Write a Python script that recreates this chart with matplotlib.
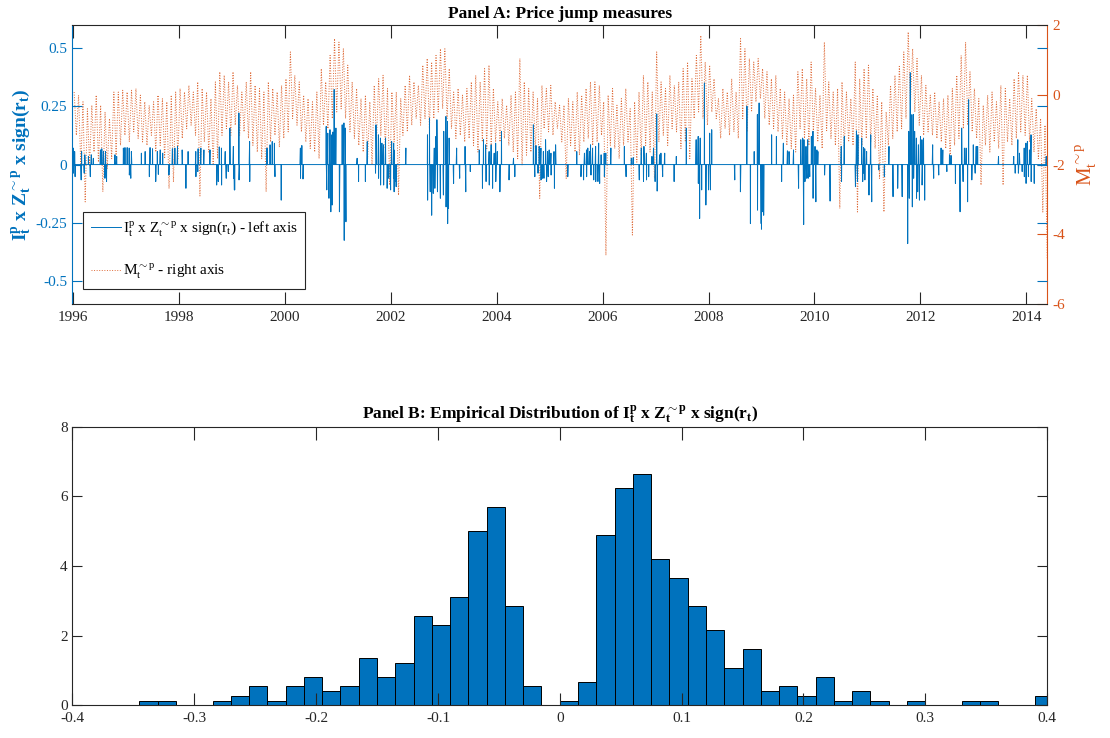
import numpy as np
import pandas as pd
import matplotlib
matplotlib.use("Agg")
import matplotlib.pyplot as plt
from matplotlib.ticker import FuncFormatter

plt.rcParams['font.family'] = ['Liberation Serif', 'DejaVu Serif']
plt.rcParams['mathtext.fontset'] = 'custom'
plt.rcParams['mathtext.rm'] = 'Liberation Serif'
plt.rcParams['mathtext.it'] = 'Liberation Serif'
plt.rcParams['mathtext.bf'] = 'Liberation Serif:bold'
plt.rcParams['axes.unicode_minus'] = False

BLUE = '#0072BD'
ORANGE = '#D95319'
DARK = '#262626'

# ---------------- DATA ----------------
# Panel A, right axis: monthly high / low of M~p_t (Jan 1996 - May 2014)
m_high = [
    0.08, -0.01, -0.20, -0.40, -0.30, -0.01, -0.30, -0.49, -0.68, 0.08, 0.08, 0.13,   # 1996
    0.08, 0.13, 0.18, -0.01, -0.20, -0.30, -0.20, -0.01, -0.11, -0.20, -0.01, 0.08,   # 1997
    0.18, 0.08, 0.27, 0.08, 0.37, 0.18, 0.08, -0.11, 0.37, 0.66, 0.56, 0.37,          # 1998
    0.66, 0.27, 0.08, 0.37, 0.66, 0.27, 0.18, 0.08, 0.37, 0.18, 0.08, 0.27,           # 1999
    0.46, 1.23, 0.56, 0.37, -0.01, -0.11, -0.20, 0.08, 0.75, 0.37, 1.13, 1.61,        # 2000
    1.51, 1.32, 0.85, 0.37, 0.18, -0.11, -0.01, -0.20, 0.27, 0.46, 0.56, 0.18,        # 2001
    0.08, 0.08, -0.11, 0.27, 0.56, 0.37, 0.27, 0.85, 1.04, 0.94, 1.13, 1.32,          # 2002
    1.32, 0.75, 0.08, 0.18, -0.01, 0.18, 0.37, 0.56, 0.37, 0.75, 0.85, 0.18,          # 2003
    -0.20, -0.11, -0.30, -0.01, 0.08, 1.04, 0.37, 0.18, 0.08, -0.11, 0.27, 0.18,      # 2004
    0.27, -0.20, -0.30, -0.30, -0.11, -0.20, 0.08, -0.01, 0.18, 0.37, 0.37, 0.27,     # 2005
    -0.20, -0.01, 0.18, -0.30, -0.11, 0.18, -0.40, -0.20, 0.08, 0.56, 0.37, 0.08,     # 2006
    1.23, 0.37, 0.18, 0.56, 0.27, 0.37, 0.75, 0.94, 0.46, 1.13, 1.70, 0.94,           # 2007
    0.85, 0.46, -0.11, 0.18, 0.08, 0.46, 0.08, 1.61, 1.32, 1.04, 0.94, 1.04,          # 2008
    0.75, 0.66, 0.46, 0.56, 0.18, 0.08, -0.11, -0.01, 0.66, 0.75, 0.46, 0.94,         # 2009
    0.18, -0.01, 1.51, 0.37, 0.08, 0.18, 0.37, 0.08, -0.11, 0.94, 0.46, 0.75,         # 2010
    0.85, 0.18, -0.01, -0.20, -0.49, 0.27, 0.56, 0.85, 1.23, 1.80, 1.32, 1.04,        # 2011
    0.56, 0.27, -0.01, 0.08, -0.20, -0.11, -0.01, 0.18, 0.56, 1.13, 1.51, 0.66,       # 2012
    0.18, -0.11, -0.30, -0.01, 0.08, -0.20, 0.27, 0.18, -0.11, 0.46, 0.66, 0.56,      # 2013
    0.56, -0.11, -0.40, -0.68, -0.87,                                                 # 2014
]
m_low = [
    -1.16, -2.02, -3.07, -2.02, -1.64, -1.93, -2.78, -2.11, -1.83, -1.73, -1.45, -1.16,  # 1996
    -1.35, -1.06, -1.25, -1.35, -1.45, -1.16, -1.64, -1.45, -1.83, -2.69, -2.50, -1.83,  # 1997
    -1.25, -0.97, -0.87, -1.16, -2.90, -1.35, -1.64, -2.02, -1.83, -1.16, -0.97, -1.16,  # 1998
    -0.87, -1.16, -1.06, -1.25, -1.45, -1.64, -1.83, -2.78, -1.35, -1.16, -1.50, -1.25,  # 1999
    -1.06, -0.68, -0.87, -1.06, -1.35, -1.54, -1.64, -1.83, -0.87, -0.97, -0.68, -0.49,  # 2000
    -0.40, -0.68, -1.06, -1.25, -1.45, -1.64, -1.83, -2.00, -1.35, -1.16, -1.54, -2.59,  # 2001
    -1.35, -2.88, -1.16, -1.06, -0.87, -0.68, -0.87, -0.68, -0.97, -0.68, -0.49, -0.40,  # 2002
    -0.68, -0.97, -1.25, -1.16, -1.35, -1.25, -1.45, -1.64, -1.35, -1.54, -1.45, -1.35,  # 2003
    -1.35, -1.25, -1.45, -1.64, -1.83, -2.02, -1.73, -1.64, -1.54, -2.97, -0.97, -1.06,  # 2004
    -1.16, -0.97, -1.35, -2.40, -1.45, -1.64, -1.73, -1.35, -1.25, -1.45, -1.35, -1.16,  # 2005
    -4.60, -1.45, -1.54, -1.83, -1.45, -1.35, -4.02, -1.93, -1.73, -1.45, -1.64, -2.40,  # 2006
    -1.35, -1.16, -1.45, -0.97, -1.06, -1.54, -1.35, -1.83, -0.68, -0.49, -0.68, -0.87,  # 2007
    -0.49, -0.68, -1.25, -0.97, -1.16, -1.06, -1.25, -0.68, -1.06, -0.49, -0.20, -0.11,  # 2008
    -0.68, -0.87, -0.97, -1.06, -1.25, -1.45, -1.54, -1.64, -0.97, -1.25, -1.45, -1.06,  # 2009
    -1.35, -1.54, -1.06, -1.25, -1.45, -3.26, -1.54, -1.35, -1.45, -3.36, -1.45, -1.25,  # 2010
    -1.35, -1.54, -2.40, -3.36, -1.45, -1.25, -1.06, -0.97, -0.68, -0.30, -0.49, -0.87,  # 2011
    -1.16, -1.06, -1.16, -1.25, -1.35, -1.54, -1.83, -1.45, -1.25, -0.97, -0.87, -1.06,  # 2012
    -1.25, -2.59, -1.45, -1.64, -1.35, -1.54, -2.59, -1.35, -1.45, -1.25, -1.06, -1.16,  # 2013
    -1.35, -1.64, -1.83, -3.36, -4.69,                                                   # 2014
]

# Panel A, left axis: jump days (decimal year) and signed jump sizes
jump_dates_pos = [
    1996.00, 1996.03, 1996.16, 1996.22, 1996.29, 1996.34, 1996.38, 1996.51, 1996.54, 1996.57,
    1996.61, 1996.79, 1996.82, 1996.95, 1996.98, 1997.02, 1997.06, 1997.10, 1997.29, 1997.36,
    1997.45, 1997.50, 1997.59, 1997.64, 1997.69, 1997.87, 1997.92, 1997.97, 1998.06, 1998.17,
    1998.31, 1998.36, 1998.41, 1998.47, 1998.58, 1998.76, 1998.80, 1998.87, 1998.96, 1999.02,
    1999.13, 1999.33, 1999.66, 1999.72, 1999.76, 1999.80, 2000.29, 2000.32, 2000.78, 2000.81,
    2000.85, 2000.88, 2000.90, 2000.93, 2000.96, 2001.08, 2001.11, 2001.14, 2001.36, 2001.55,
    2001.72, 2001.76, 2001.80, 2001.83, 2001.86, 2001.90, 2002.01, 2002.05,
    2002.06, 2002.28, 2002.69, 2002.73, 2002.82, 2002.85, 2002.87, 2003.00, 2003.04, 2003.07,
    2003.10, 2003.24, 2003.40, 2003.67, 2003.75, 2003.79, 2003.85, 2003.89, 2003.95, 2003.98,
    2004.01, 2004.09, 2004.31, 2004.69, 2004.74, 2004.80, 2004.83, 2004.88, 2004.92, 2004.96,
    2004.99, 2005.02, 2005.08, 2005.11,
    2005.51, 2005.65, 2005.69, 2005.72, 2005.75, 2005.77, 2005.81, 2005.86, 2005.92, 2005.97,
    2006.03, 2006.06, 2006.15, 2006.41, 2006.54, 2006.57, 2006.73, 2006.78, 2006.82, 2006.93,
    2006.96, 2007.02, 2007.07, 2007.10, 2007.17, 2007.39, 2007.58, 2007.76, 2007.80, 2007.84,
    2007.92, 2008.02, 2008.06,
    2008.72, 2008.86, 2008.92, 2008.95, 2009.19, 2009.28, 2009.41, 2009.49, 2009.52, 2009.60,
    2009.74, 2009.77, 2009.80, 2009.84, 2009.87, 2009.94, 2009.97, 2010.01, 2010.04, 2010.06,
    2010.50, 2010.56, 2010.79, 2010.82, 2010.89, 2010.92, 2010.95, 2010.98, 2011.06,
    2011.40, 2011.78, 2011.81, 2011.84, 2011.87, 2011.89, 2011.92, 2011.96, 2012.00, 2012.03,
    2012.06, 2012.23, 2012.39, 2012.42, 2012.55, 2012.58, 2012.78, 2012.83, 2012.86, 2012.91,
    2013.00, 2013.05, 2013.08, 2013.47, 2013.76, 2013.84, 2013.87, 2013.96, 2013.99, 2014.02,
    2014.06, 2014.09, 2014.37,
]
jump_sizes_pos = [
    0.071, 0.056, 0.056, 0.042, 0.035, 0.042, 0.027, 0.063, 0.068, 0.056,
    0.056, 0.042, 0.035, 0.071, 0.073, 0.073, 0.071, 0.056, 0.049, 0.056,
    0.073, 0.068, 0.056, 0.063, 0.049, 0.068, 0.071, 0.078, 0.063, 0.056,
    0.056, 0.068, 0.071, 0.063, 0.063, 0.076, 0.071, 0.056, 0.157, 0.078,
    0.222, 0.099, 0.071, 0.085, 0.099, 0.092, 0.071, 0.082, 0.164, 0.135,
    0.150, 0.128, 0.140, 0.323, 0.157, 0.171, 0.179, 0.157, 0.027, 0.099,
    0.171, 0.128, 0.114, 0.092, 0.085, 0.114, 0.099, 0.092,
    0.063, 0.071, 0.128, 0.200, 0.071, 0.121, 0.193, 0.143, 0.207, 0.186,
    0.114, 0.071, 0.078, 0.063, 0.107, 0.085, 0.056, 0.085, 0.049, 0.092,
    0.056, 0.143, 0.027, 0.171, 0.082, 0.078, 0.071, 0.056, 0.107, 0.056,
    0.063, 0.049, 0.056, 0.085,
    0.056, 0.049, 0.063, 0.071, 0.056, 0.085, 0.071, 0.078, 0.092, 0.042,
    0.049, 0.049, 0.071, 0.078, 0.027, 0.030, 0.071, 0.078, 0.049, 0.035,
    0.071, 0.218, 0.042, 0.049, 0.049, 0.035, 0.157, 0.107, 0.121, 0.114,
    0.351, 0.135, 0.150,
    0.251, 0.056, 0.215, 0.265, 0.128, 0.121, 0.092, 0.059, 0.056, 0.063,
    0.107, 0.114, 0.107, 0.078, 0.107, 0.121, 0.143, 0.078, 0.063, 0.056,
    0.078, 0.121, 0.145, 0.128, 0.114, 0.073, 0.068, 0.056, 0.128,
    0.078, 0.143, 0.395, 0.215, 0.215, 0.143, 0.114, 0.085, 0.121, 0.107,
    0.114, 0.085, 0.071, 0.063, 0.042, 0.039, 0.157, 0.071, 0.071, 0.279,
    0.085, 0.078, 0.078, 0.035, 0.035, 0.107, 0.049, 0.071, 0.092, 0.099,
    0.063, 0.128, 0.035,
]
jump_dates_neg = [
    1996.00, 1996.03, 1996.15, 1996.21, 1996.32, 1996.60, 1996.63, 1997.06, 1997.09, 1997.44,
    1997.56, 1997.61, 1997.81, 1998.13, 1998.32, 1998.35, 1998.71, 1998.74, 1998.80, 1998.89,
    1998.93, 1999.04,
    1999.03, 1999.05, 1999.13, 1999.33, 1999.81, 1999.93, 2000.29, 2000.34, 2000.79, 2000.83,
    2000.86, 2000.89, 2001.03, 2001.11, 2001.12, 2001.15, 2001.39, 2001.52, 2001.71, 2001.76,
    2001.80, 2001.86, 2001.93, 2001.96, 2001.99, 2002.05, 2002.10,
    2002.06, 2002.09, 2002.69, 2002.74, 2002.77, 2002.80, 2002.83, 2002.88, 2002.93, 2002.99,
    2003.04, 2003.07, 2003.09, 2003.18, 2003.30, 2003.41, 2003.50, 2003.73, 2003.79, 2003.85,
    2003.92, 2003.98, 2004.06, 2004.23, 2004.34, 2004.72, 2004.78, 2004.83, 2004.86, 2004.89,
    2004.94, 2004.97, 2005.02, 2005.09,
    2005.34, 2005.59, 2005.64, 2005.69, 2005.78, 2005.83, 2005.86, 2005.91, 2005.94, 2006.03,
    2006.44, 2006.69, 2006.77, 2006.82, 2006.87, 2006.99, 2007.03, 2007.13, 2007.35, 2007.80,
    2007.83, 2007.87, 2007.95, 2008.00, 2008.03,
    2008.49, 2008.60, 2008.79, 2008.92, 2008.99, 2009.00, 2009.02, 2009.04, 2009.38, 2009.70,
    2009.79, 2009.82, 2009.85, 2009.88, 2009.91, 2009.97, 2010.02, 2010.19, 2010.29, 2010.51,
    2010.77, 2010.81, 2010.91, 2010.93, 2010.95, 2011.03, 2011.08, 2011.21,
    2011.32, 2011.48, 2011.57, 2011.65, 2011.76, 2011.79, 2011.84, 2011.87, 2011.92, 2011.95,
    2011.98, 2012.03, 2012.08, 2012.25, 2012.34, 2012.50, 2012.66, 2012.75, 2012.80, 2012.89,
    2012.97, 2013.03, 2013.79, 2013.85, 2013.92, 2013.96, 2013.99, 2014.04, 2014.09, 2014.15,
]
jump_sizes_neg = [
    -0.037, -0.052, -0.066, -0.037, -0.052, -0.059, -0.073, -0.045, -0.059, -0.052,
    -0.073, -0.042, -0.045, -0.102, -0.052, -0.030, -0.088, -0.073, -0.088, -0.059,
    -0.030, -0.109,
    -0.059, -0.109, -0.066, -0.073, -0.052, -0.153, -0.059, -0.062, -0.109, -0.145,
    -0.203, -0.174, -0.203, -0.225, -0.326, -0.246, -0.073, -0.073, -0.037, -0.059,
    -0.088, -0.088, -0.102, -0.059, -0.109, -0.059, -0.095,
    -0.117, -0.073, -0.153, -0.117, -0.218, -0.124, -0.102, -0.117, -0.145, -0.131,
    -0.182, -0.254, -0.189, -0.081, -0.059, -0.117, -0.030, -0.102, -0.073, -0.088,
    -0.102, -0.073, -0.117, -0.066, -0.052, -0.052, -0.037, -0.066, -0.059, -0.059,
    -0.073, -0.052, -0.045, -0.102,
    -0.052, -0.052, -0.066, -0.052, -0.045, -0.066, -0.073, -0.073, -0.081, -0.052,
    -0.052, -0.066, -0.073, -0.066, -0.052, -0.073, -0.114, -0.052, -0.073, -0.081,
    -0.232, -0.109, -0.174, -0.109, -0.109,
    -0.066, -0.117, -0.254, -0.196, -0.254, -0.278, -0.203, -0.218, -0.073, -0.102,
    -0.258, -0.073, -0.059, -0.059, -0.052, -0.145, -0.160, -0.045, -0.157, -0.073,
    -0.095, -0.073, -0.073, -0.037, -0.066, -0.131, -0.160, -0.023,
    -0.052, -0.138, -0.102, -0.138, -0.340, -0.145, -0.182, -0.059, -0.145, -0.117,
    -0.153, -0.088, -0.153, -0.059, -0.045, -0.030, -0.081, -0.203, -0.073, -0.160,
    -0.066, -0.037, -0.037, -0.037, -0.030, -0.052, -0.081, -0.052, -0.073, -0.081,
]

# Panel B: histogram bins (width 0.015) and counts
hist_left_edge = -0.345
hist_bin_width = 0.015
hist_counts = [
    1, 1, 0, 0, 1, 2, 4, 1, 4, 6, 3, 4, 10, 6, 9, 19, 17, 23, 37, 42, 21, 4, 0,   # -0.345 .. 0
    1, 5, 36, 46, 49, 31, 27, 21, 16, 8, 12, 3, 4, 2, 6, 1, 3, 1, 0, 1, 0, 0,     # 0 .. 0.33
    1, 1, 0, 0, 2,                                                               # 0.33 .. 0.405
]

year_ticks = [1996, 1998, 2000, 2002, 2004, 2006, 2008, 2010, 2012, 2014]
left_ticks = [-0.5, -0.25, 0, 0.25, 0.5]
right_ticks = [-6, -4, -2, 0, 2]
hist_xticks = [-0.4, -0.3, -0.2, -0.1, 0, 0.1, 0.2, 0.3, 0.4]
hist_yticks = [0, 2, 4, 6, 8]

# ---------------- BUILD SERIES ----------------
days = pd.bdate_range('1996-01-01', '2014-05-23')
t_days = days.year.values + (days.dayofyear.values - 1) / 365.25
jump_series = np.zeros(len(days))
all_dates = np.array(jump_dates_pos + jump_dates_neg)
all_sizes = np.array(jump_sizes_pos + jump_sizes_neg)
order = np.argsort(all_dates, kind='stable')
last = 0
for d, v in zip(all_dates[order], all_sizes[order]):
    i = int(np.searchsorted(t_days, d))
    i = max(i, last + 1)
    i = min(i, len(days) - 1)
    jump_series[i] = v
    last = i

months = pd.period_range('1996-01', '2014-05', freq='M')
m_year0 = months.year.values + (months.month.values - 1) / 12.0
m_times = np.empty(2 * len(months))
m_vals = np.empty(2 * len(months))
m_times[0::2] = m_year0 + 0.25 / 12
m_times[1::2] = m_year0 + 0.75 / 12
m_vals[0::2] = m_high
m_vals[1::2] = m_low

edges = hist_left_edge + hist_bin_width * np.arange(len(hist_counts) + 1)
centers = edges[:-1] + hist_bin_width / 2

# ---------------- FIGURE ----------------
fig = plt.figure(figsize=(11.1, 7.38), dpi=100)
fmt = FuncFormatter(lambda v, p: '%g' % round(v, 4))

# Panel A
axA = fig.add_axes([0.0651, 0.588, 0.8782, 0.378])
axA2 = axA.twinx()
axA.set_zorder(axA2.get_zorder() + 1)
axA.patch.set_visible(False)

lM, = axA2.plot(m_times, m_vals, color=ORANGE, ls=':', lw=0.7, alpha=0.85)
lJ, = axA.plot(t_days, jump_series, color=BLUE, lw=0.7)

axA.set_xlim(1995.985, 2014.393)
axA.set_ylim(-0.6, 0.6)
axA2.set_ylim(-6, 2)
axA.set_xticks(year_ticks)
axA.set_xticklabels([str(y) for y in year_ticks])
axA.set_yticks(left_ticks)
axA.yaxis.set_major_formatter(fmt)
axA2.set_yticks(right_ticks)
axA2.yaxis.set_major_formatter(fmt)

axA.spines['top'].set_color(DARK)
axA.spines['bottom'].set_color(DARK)
axA.spines['left'].set_color(BLUE)
axA.spines['right'].set_visible(False)
axA2.spines['left'].set_visible(False)
axA2.spines['top'].set_visible(False)
axA2.spines['bottom'].set_visible(False)
axA2.spines['right'].set_color(ORANGE)

axA.tick_params(axis='x', direction='in', top=True, length=9, width=0.8,
                colors=DARK, labelsize=11, pad=5)
axA.tick_params(axis='y', direction='in', left=True, right=True, length=7,
                width=0.8, colors=BLUE, labelsize=11)
axA2.tick_params(axis='y', direction='in', length=7, width=0.8,
                 colors=ORANGE, labelsize=11)

axA.set_title('Panel A: Price jump measures', fontsize=12.5, fontweight='bold',
              pad=5)
axA.set_ylabel(r'$\mathbf{I}_\mathbf{t}^\mathbf{p}$ x $\mathbf{Z}_\mathbf{t}^\mathbf{\sim p}$ x sign(r$_\mathbf{t}$)',
               color=BLUE, fontsize=14, fontweight='bold', labelpad=1)
axA2.set_ylabel(r'$\mathrm{M}_\mathrm{t}^\mathrm{\sim p}$', color=ORANGE,
                fontsize=15, labelpad=6)

leg = axA.legend([lJ, lM],
                 [r'$\mathrm{I}_\mathrm{t}^\mathrm{p}$ x $\mathrm{Z}_\mathrm{t}^\mathrm{\sim p}$ x sign(r$_\mathrm{t}$) - left axis',
                  r'$\mathrm{M}_\mathrm{t}^\mathrm{\sim p}$ - right axis'],
                 loc='lower left', bbox_to_anchor=(0.011, 0.054), fontsize=11,
                 frameon=True, fancybox=False, framealpha=1, edgecolor=DARK,
                 handlelength=2.0, borderpad=0.5, labelspacing=1.55,
                 handletextpad=0.1, borderaxespad=0.0)
leg.get_frame().set_linewidth(0.8)

# Panel B
axB = fig.add_axes([0.0653, 0.0443, 0.8780, 0.3775])
axB.hist(centers, bins=edges, weights=hist_counts, density=True,
         facecolor=BLUE, edgecolor='black', linewidth=0.7)
axB.set_xlim(-0.4, 0.4)
axB.set_ylim(0, 8)
axB.set_xticks(hist_xticks)
axB.set_yticks(hist_yticks)
axB.xaxis.set_major_formatter(fmt)
axB.yaxis.set_major_formatter(fmt)
for s in axB.spines.values():
    s.set_color(DARK)
axB.tick_params(axis='x', direction='in', top=True, length=9, width=0.8,
                colors=DARK, labelsize=11, pad=5)
axB.tick_params(axis='y', direction='in', right=True, length=7, width=0.8,
                colors=DARK, labelsize=11)
axB.set_title(r'Panel B: Empirical Distribution of $\mathbf{I}_\mathbf{t}^\mathbf{p}$ x $\mathbf{Z}_\mathbf{t}^\mathbf{\sim p}$ x sign(r$_\mathbf{t}$)',
              fontsize=12.5, fontweight='bold', pad=5)

fig.savefig('out.png', dpi=100)
